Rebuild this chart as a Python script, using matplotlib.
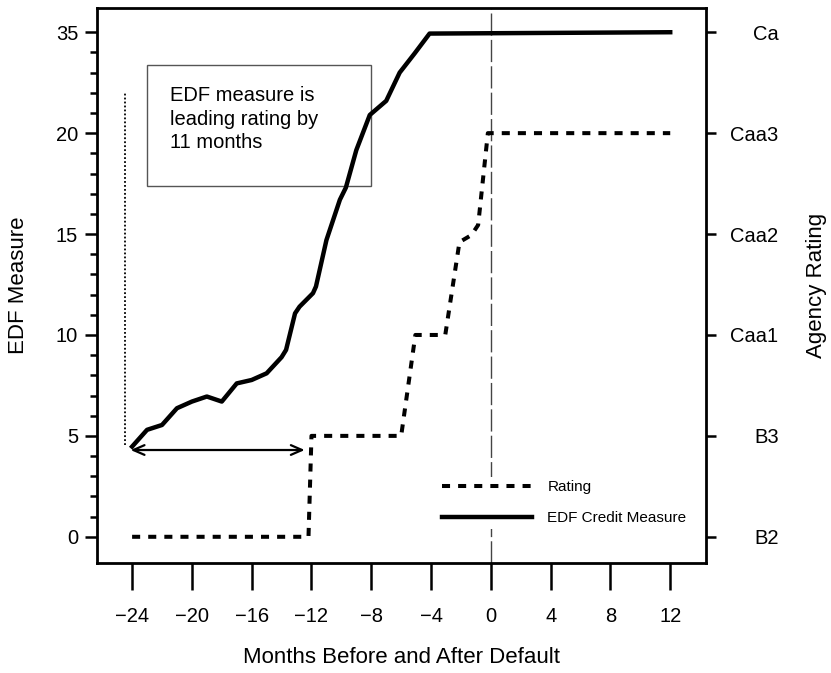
import numpy as np
import matplotlib
matplotlib.use("Agg")
import matplotlib.pyplot as plt
from matplotlib.patches import Rectangle
from matplotlib.ticker import FixedLocator

plt.rcParams['font.family'] = ['Liberation Sans', 'DejaVu Sans']

# EDF credit measure, months relative to default
edf_months = [-24, -23, -22, -21, -20, -19, -18, -17, -16, -15, -14, -13.7, -13.1,
              -12.8, -11.9, -11.7, -11, -10.1, -9.7, -9, -8.1, -7, -6.1, -5.1, -4.1, 12]
edf_values = [4.47, 5.3, 5.54, 6.37, 6.7, 6.95, 6.7, 7.6, 7.77, 8.1, 8.9, 9.26, 11.07,
              11.4, 12.07, 12.4, 14.7, 16.7, 17.3, 19.16, 22.7, 24.8, 29.0, 31.85, 34.8, 35]

# agency rating as notch index (0 = B2 ... 5 = Ca)
rating_months = [-24, -12.2, -12.0, -6.0, -5.05, -3.05, -2.1, -1.3, -0.85, -0.2, 12]
rating_notch = [0, 0, 1, 1, 2, 2, 2.92, 2.99, 3.09, 4, 4]
rating_labels = ['B2', 'B3', 'Caa1', 'Caa2', 'Caa3', 'Ca']

edf_ticks = [0, 5, 10, 15, 20, 35]
edf_minor = [1, 2, 3, 4, 6, 7, 8, 9, 11, 12, 13, 14, 16, 17, 18, 19, 23, 26, 29, 32]
month_ticks = list(range(-24, 13, 4))

lead_start, lead_end, lead_level = -24.1, -12.45, 4.3


def compress(v):
    v = np.asarray(v, dtype=float)
    return np.where(v <= 20, v, 20 + (v - 20) / 3.0)


def expand(p):
    p = np.asarray(p, dtype=float)
    return np.where(p <= 20, p, 20 + (p - 20) * 3.0)


fig = plt.figure(figsize=(8.31, 6.73), dpi=100)
ax = fig.add_axes([0.1167, 0.1634, 0.733, 0.8247])
ax.set_yscale('function', functions=(compress, expand))
ax.set_xlim(-26.35, 14.4)
ax.set_ylim(-1.3, 38.6)

ax2 = ax.twinx()
ax2.set_ylim(-1.3 / 5, 26.2 / 5)

# default date marker
ax.axvline(0, color='#444444', lw=1.0, ls=(0, (16, 3)), zorder=1)

rating_line, = ax2.plot(rating_months, rating_notch, color='black', lw=2.9,
                        ls=(0, (2, 2)), label='Rating')
edf_line, = ax.plot(edf_months, edf_values, color='black', lw=3.2,
                    solid_joinstyle='round', label='EDF Credit Measure')

# lead time annotation
ax.plot([-24.45, -24.45], [4.55, 26.1], color='black', lw=1.3, ls=(0, (1, 1.2)))
ax.annotate('', xy=(lead_start, lead_level), xytext=(lead_end, lead_level),
            arrowprops=dict(arrowstyle='<->,head_length=0.8,head_width=0.35',
                            lw=1.6, color='black', shrinkA=0, shrinkB=0))

ax.add_patch(Rectangle((0.0826, 0.680), 0.3674, 0.217, transform=ax.transAxes,
                       fill=False, edgecolor='#555555', lw=1.0))
ax.text(0.12, 0.80, 'EDF measure is\nleading rating by\n11 months', transform=ax.transAxes,
        ha='left', va='center', fontsize=14.5, linespacing=1.27)

# axes styling
for sp in ax.spines.values():
    sp.set_linewidth(2.0)
for sp in ax2.spines.values():
    sp.set_visible(False)

ax.set_xticks(month_ticks)
ax.set_yticks(edf_ticks)
ax.yaxis.set_minor_locator(FixedLocator(edf_minor))
ax.xaxis.set_minor_locator(FixedLocator([]))
ax.tick_params(axis='x', length=19.4, width=1.8, pad=12, labelsize=14.5)
ax.tick_params(axis='y', which='major', length=8.6, width=1.8, pad=5, labelsize=14.5)
ax.tick_params(axis='y', which='minor', length=5, width=1.8)

ax2.set_yticks(range(6), labels=rating_labels, ha='right')
ax2.tick_params(axis='y', length=7.2, width=1.8, pad=45, labelsize=14.5)

ax.set_xlabel('Months Before and After Default', fontsize=16, labelpad=15.5)
ax.set_ylabel('EDF Measure', fontsize=16, labelpad=19)
ax2.set_ylabel('Agency Rating', fontsize=16, labelpad=20)

leg = ax2.legend(handles=[rating_line, edf_line], loc='upper left',
                 bbox_to_anchor=(0.5283, 0.2912), bbox_transform=fig.transFigure,
                 fontsize=11, handlelength=5.9, handletextpad=1.0, labelspacing=1.14,
                 borderpad=0.2, borderaxespad=0, frameon=True, fancybox=False)
leg.get_frame().set_edgecolor('none')
leg.get_frame().set_facecolor('white')
leg.get_frame().set_alpha(1)

fig.savefig('out.png', dpi=100)
